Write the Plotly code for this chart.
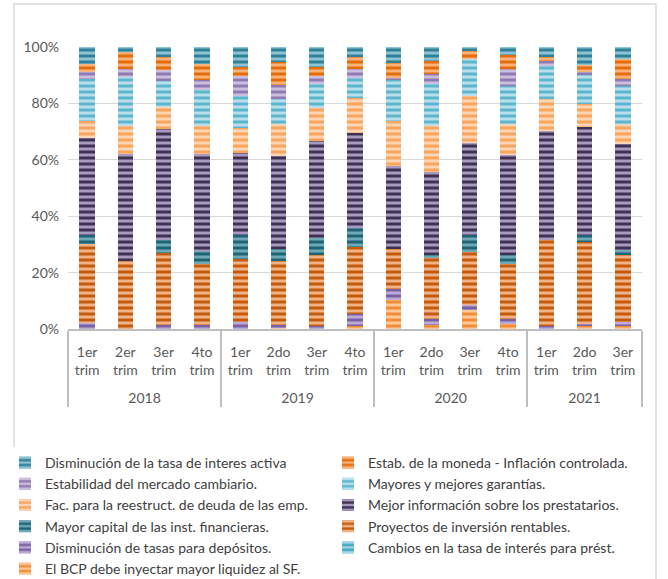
import plotly.graph_objects as go

years = ["2018"] * 4 + ["2019"] * 4 + ["2020"] * 4 + ["2021"] * 3
quarters = ["1er<br>trim", "2er<br>trim", "3er<br>trim", "4to<br>trim",
            "1er<br>trim", "2do<br>trim", "3er<br>trim", "4to<br>trim",
            "1er<br>trim", "2do<br>trim", "3er<br>trim", "4to<br>trim",
            "1er<br>trim", "2do<br>trim", "3er<br>trim"]

# values in %, listed bottom-of-stack first
bcp      = [0, 0, 0, 0, 0, 0.5, 0, 1.2, 10.3, 1.4, 6.7, 1.8, 0, 1.0, 1.0]
cambios  = [0, 0, 0, 0, 0, 0, 0, 0, 0, 0, 0, 0, 0, 0, 0]
depos    = [2.1, 0.0, 1.5, 1.5, 2.6, 1.0, 1.2, 4.2, 4.1, 2.1, 1.8, 1.8, 1.2, 0.8, 1.4]
proy     = [28.1, 24.0, 25.5, 21.4, 22.3, 22.6, 24.9, 23.7, 14.2, 22.0, 18.9, 19.6, 30.4, 29.2, 23.8]
capital  = [3.3, 0.0, 4.7, 4.7, 8.3, 4.2, 5.9, 6.5, 0.0, 0.6, 5.9, 3.0, 0.0, 2.4, 1.8]
info     = [34.2, 38.0, 39.1, 34.4, 29.1, 33.2, 34.4, 33.8, 29.6, 29.8, 32.8, 35.7, 38.7, 38.1, 37.5]
fac      = [6.2, 10.1, 7.7, 10.1, 8.9, 11.3, 11.9, 12.5, 15.9, 16.1, 16.6, 10.7, 11.3, 8.3, 7.1]
garant   = [14.8, 17.2, 9.5, 12.5, 11.3, 8.9, 8.3, 7.1, 14.8, 14.9, 13.1, 13.7, 11.9, 10.1, 13.7]
estab    = [2.4, 3.0, 3.6, 3.6, 7.1, 4.7, 3.0, 3.0, 0.5, 3.6, 0.0, 6.0, 1.8, 1.2, 2.4]
moneda   = [3.0, 5.9, 4.7, 5.9, 3.0, 8.3, 3.0, 4.2, 5.3, 4.8, 2.8, 4.8, 1.2, 2.4, 7.1]
activa   = [5.9, 1.8, 3.6, 5.9, 7.1, 5.3, 7.1, 3.6, 5.8, 4.8, 1.4, 3.0, 3.6, 6.5, 4.2]

series = [
    ("El BCP debe inyectar mayor liquidez al SF.", bcp, "#F58B35", "#FCC99C"),
    ("Cambios en la tasa de interés para prést.", cambios, "#3FA6C3", "#A3D5E3"),
    ("Disminución de tasas para depósitos.", depos, "#7A60A6", "#BBABD6"),
    ("Proyectos de inversión rentables.", proy, "#C45A0C", "#F2B487"),
    ("Mayor capital de las inst. financieras.", capital, "#1F6474", "#6FA8B6"),
    ("Mejor información sobre los prestatarios.", info, "#3F3153", "#A99BC0"),
    ("Fac. para la reestruct. de deuda de las emp.", fac, "#F9A55E", "#FCD5B4"),
    ("Mayores y mejores garantías.", garant, "#5DB5CE", "#B9E0EA"),
    ("Estabilidad del mercado cambiario.", estab, "#8F7BB3", "#CBBFDD"),
    ("Estab. de la moneda - Inflación controlada.", moneda, "#E46C0A", "#F9B27A"),
    ("Disminución de la tasa de interes activa", activa, "#2E8199", "#8DC3D3"),
]

# feed points so that inner labels are first met in the order 1er, 2er, 2do, 3er, 4to
# (plotly orders multicategory inner labels by first appearance)
order = [0, 1, 5, 2, 3, 4] + list(range(6, 15))
outer = ["<br>" + years[i] for i in order]   # blank first line drops the year row lower
inner = [quarters[i] for i in order]

fig = go.Figure()
for name, vals, fg, bg in series:
    fig.add_trace(go.Bar(
        x=[outer, inner],
        y=[vals[i] for i in order], name=name,
        marker=dict(color=fg, line=dict(width=0),
                    pattern=dict(shape="-", fgcolor=fg, bgcolor=bg,
                                 size=6, solidity=0.5, fillmode="replace")),
    ))

W, H = 668, 579
L, R, T, B = 68, 26, 47, 250
pw, ph = W - L - R, H - T - B

def px_x(p):
    return (p - L) / pw

def px_y(p):
    return (T + ph - p) / ph

fig.update_layout(
    width=W, height=H,
    margin=dict(l=L, r=R, t=T, b=B, autoexpand=False),
    barmode="stack", barnorm="percent", bargap=0.6,
    paper_bgcolor="white", plot_bgcolor="white",
    font=dict(family="Lato, sans-serif", size=14, color="#595959"),
    legend=dict(orientation="h", traceorder="reversed",
                x=px_x(5), xanchor="left",
                y=px_y(447), yanchor="top",
                entrywidth=278, entrywidthmode="pixels",
                font=dict(size=14, color="#404040"),
                itemclick=False),
    shapes=[dict(type="rect", xref="paper", yref="paper",
                 x0=px_x(14), x1=px_x(656),
                 y0=px_y(600), y1=px_y(4),
                 line=dict(color="#d9d9d9", width=1.5))],
)
fig.update_yaxes(range=[0, 100], dtick=20, ticksuffix="%",
                 gridcolor="#d9d9d9", gridwidth=1, zeroline=False,
                 showline=False, ticklabelstandoff=8,
                 tickfont=dict(size=14, color="#595959"),
                 fixedrange=True)
fig.update_xaxes(type="multicategory", showline=True, linecolor="#bfbfbf",
                 linewidth=2, showdividers=True, dividercolor="#bfbfbf",
                 dividerwidth=2, ticklabelstandoff=9,
                 tickfont=dict(size=14, color="#595959"),
                 fixedrange=True)

fig.write_html("out.html", config={"displayModeBar": False},
               post_script="document.body.style.margin='0';")
